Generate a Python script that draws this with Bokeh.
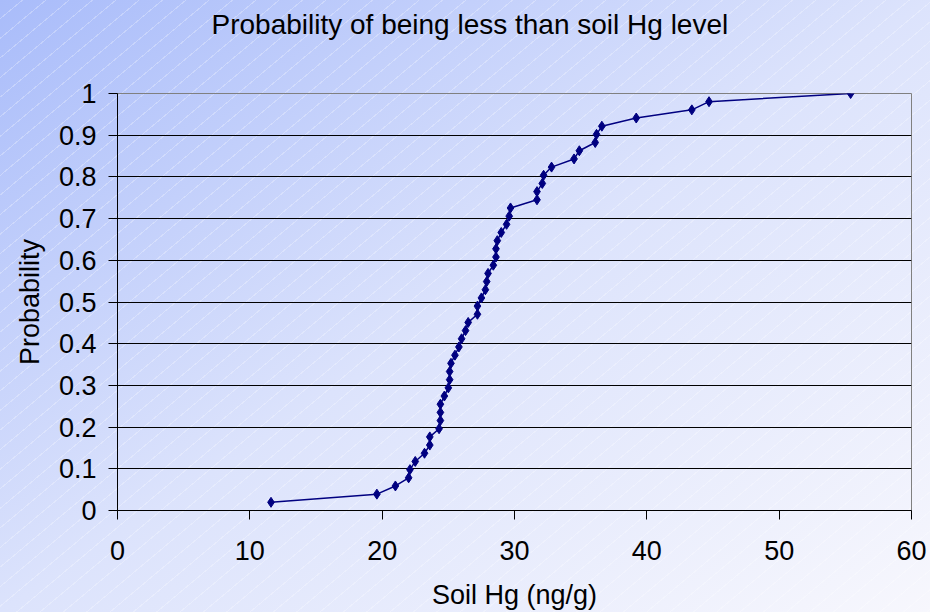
from bokeh.plotting import figure
from bokeh.models import FixedTicker, NumeralTickFormatter, Range1d, ColumnDataSource, Title
from bokeh.embed import file_html
from bokeh.resources import INLINE

# ---- data ----
soil_hg = [11.6, 19.6, 21.0, 22.0, 22.1, 22.5, 23.2, 23.6, 23.6, 24.3,
           24.4, 24.4, 24.4, 24.7, 25.0, 25.1, 25.1, 25.2, 25.5, 25.8,
           26.0, 26.3, 26.5, 27.2, 27.2, 27.5, 27.8, 27.9, 28.0, 28.4,
           28.6, 28.6, 28.7, 29.0, 29.4, 29.6, 29.7, 31.7, 31.7, 32.1,
           32.2, 32.8, 34.5, 34.9, 36.1, 36.2, 36.6, 39.2, 43.4, 44.7,
           55.4]
probability = [0.0196, 0.0392, 0.0588, 0.0784, 0.0980, 0.1176, 0.1373, 0.1569, 0.1765, 0.1961,
               0.2157, 0.2353, 0.2549, 0.2745, 0.2941, 0.3137, 0.3333, 0.3529, 0.3725, 0.3922,
               0.4118, 0.4314, 0.4510, 0.4706, 0.4902, 0.5098, 0.5294, 0.5490, 0.5686, 0.5882,
               0.6078, 0.6275, 0.6471, 0.6667, 0.6863, 0.7059, 0.7255, 0.7451, 0.7647, 0.7843,
               0.8039, 0.8235, 0.8431, 0.8627, 0.8824, 0.9020, 0.9216, 0.9412, 0.9608, 0.9804,
               1.0]
x_ticks = [0, 10, 20, 30, 40, 50, 60]
y_ticks = [0, 0.1, 0.2, 0.3, 0.4, 0.5, 0.6, 0.7, 0.8, 0.9, 1.0]
grid_ticks = [0.1, 0.2, 0.3, 0.4, 0.5, 0.6, 0.7, 0.8, 0.9]

title_text = "Probability of being less than soil Hg level"
x_label = "Soil Hg (ng/g)"
y_label = "Probability"

FONT = "Liberation Sans"
FS = "27px"

src = ColumnDataSource(dict(x=soil_hg, y=probability))

p = figure(
    frame_width=794, frame_height=417,
    min_border_left=117, min_border_right=19,
    min_border_top=93, min_border_bottom=95,
    x_range=Range1d(0, 60), y_range=Range1d(0, 1),
    output_backend="svg", toolbar_location=None,
    title=title_text,
)

p.styles = {
    "background-image": (
        "repeating-linear-gradient(140deg, rgba(255,255,255,0) 0px, rgba(255,255,255,0) 14px, "
        "rgba(255,255,255,0.28) 14px, rgba(255,255,255,0.28) 15px), "
        "linear-gradient(to bottom right, #a9bcfa 0%, #dce3fc 50%, #f7f7fd 100%)"
    )
}
p.background_fill_color = None
p.border_fill_color = None
p.outline_line_color = "#808080"
p.outline_line_width = 1

# title (outermost) with an empty spacer title between it and the frame
p.title.text_font = FONT
p.title.text_font_size = "28px"
p.title.text_font_style = "normal"
p.title.text_color = "black"
p.title.align = "left"
p.title.offset = 94
p.title.standoff = 13
p.add_layout(Title(text=" ", text_font_size="1px", standoff=44), "above")

# grid
p.xgrid.visible = False
p.ygrid.ticker = FixedTicker(ticks=grid_ticks)
p.ygrid.grid_line_color = "black"
p.ygrid.grid_line_width = 1

# axes
for ax in (p.xaxis[0], p.yaxis[0]):
    ax.axis_line_color = "black"
    ax.major_tick_line_color = "black"
    ax.minor_tick_line_color = None
    ax.major_tick_out = 9
    ax.major_tick_in = 0
    ax.major_label_text_font = FONT
    ax.major_label_text_font_size = FS
    ax.major_label_text_color = "black"
    ax.axis_label_text_font = FONT
    ax.axis_label_text_font_size = FS
    ax.axis_label_text_font_style = "normal"
    ax.axis_label_text_color = "black"

p.xaxis.ticker = FixedTicker(ticks=x_ticks)
p.yaxis.ticker = FixedTicker(ticks=y_ticks)
p.yaxis.formatter = NumeralTickFormatter(format="0.[0]")
p.xaxis.axis_label = x_label
p.yaxis.axis_label = y_label
p.xaxis.major_label_standoff = 21
p.yaxis.major_label_standoff = 12
p.xaxis.axis_label_standoff = 17
p.yaxis.axis_label_standoff = 11

p.line("x", "y", source=src, line_color="#000080", line_width=1.5)
p.scatter("x", "y", source=src, marker="diamond", size=10,
          fill_color="#000080", line_color="#000080")

open("out.html", "w").write(file_html(p, INLINE))
